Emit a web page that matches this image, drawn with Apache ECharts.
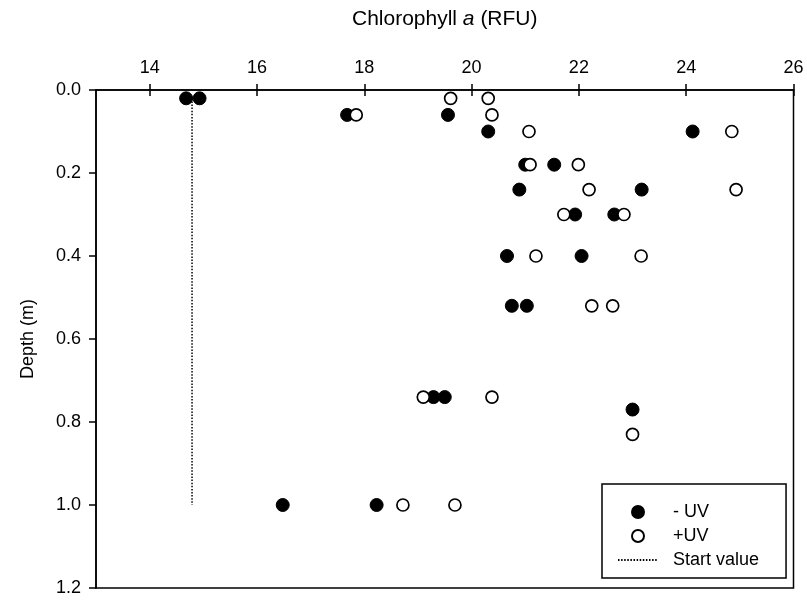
<!DOCTYPE html>
<html>
<head>
<meta charset="utf-8">
<script src="https://cdn.jsdelivr.net/npm/echarts@6/dist/echarts.min.js"></script>
<style>
html,body{margin:0;padding:0;background:#fff;}
#c{width:807px;height:603px;}
</style>
</head>
<body>
<div id="c"></div>
<script>
// Data
const minusChl = [14.68, 14.93, 17.68, 19.56, 20.31, 24.12, 21.00, 21.54, 20.89, 23.17, 21.93, 22.66, 20.66, 22.05, 20.75, 21.03, 19.29, 19.50, 23.00, 16.48, 18.23];
const minusDepth = [0.02, 0.02, 0.06, 0.06, 0.10, 0.10, 0.18, 0.18, 0.24, 0.24, 0.30, 0.30, 0.40, 0.40, 0.52, 0.52, 0.74, 0.74, 0.77, 1.00, 1.00];
const plusChl = [19.61, 20.31, 17.85, 20.38, 21.07, 24.85, 21.09, 21.99, 22.19, 24.93, 21.72, 22.84, 21.20, 23.16, 22.24, 22.63, 19.10, 20.38, 23.00, 18.72, 19.69];
const plusDepth = [0.02, 0.02, 0.06, 0.06, 0.10, 0.10, 0.18, 0.18, 0.24, 0.24, 0.30, 0.30, 0.40, 0.40, 0.52, 0.52, 0.74, 0.74, 0.83, 1.00, 1.00];
const startValue = 14.79;
const startDepths = [0.02, 1.00];
const xTicks = [14, 16, 18, 20, 22, 24, 26];
const yTicks = [0, 0.2, 0.4, 0.6, 0.8, 1.0, 1.2];
const seriesNames = ['- UV', '+UV', 'Start value'];

const FONT = '"Liberation Sans", Arial, sans-serif';
const chart = echarts.init(document.getElementById('c'), null, {renderer: 'canvas'});

const zip = (xs, ys) => xs.map((x, i) => [x, ys[i]]);

const baseX = {
  type: 'value', min: 13, max: 26, position: 'top',
  splitLine: {show: false}
};

chart.setOption({
  animation: false,
  backgroundColor: '#fff',
  grid: {left: 96, right: 13.5, top: 90, bottom: 15, show: true, borderColor: '#000', borderWidth: 1.5, backgroundColor: 'transparent'},
  xAxis: [
    Object.assign({}, baseX, {
      name: '{n|Chlorophyll }{i|a}{n| (RFU)}',
      nameLocation: 'middle', nameGap: 60,
      nameTextStyle: {rich: {
        n: {fontFamily: FONT, fontSize: 21, color: '#000'},
        i: {fontFamily: FONT, fontSize: 21, color: '#000', fontStyle: 'italic'}
      }},
      axisLine: {show: true, onZero: false, lineStyle: {color: '#000', width: 1.5}},
      axisTick: {show: true, inside: false, length: 6, lineStyle: {color: '#000', width: 1.5}, customValues: xTicks},
      axisLabel: {show: true, color: '#000', fontFamily: FONT, fontSize: 18, margin: 13, customValues: xTicks}
    }),
    Object.assign({}, baseX, {
      axisLine: {show: false, onZero: false},
      axisTick: {show: true, inside: true, length: 6, lineStyle: {color: '#000', width: 1.5}, customValues: xTicks},
      axisLabel: {show: false, customValues: xTicks}
    })
  ],
  yAxis: {
    type: 'value', min: 0, max: 1.2, inverse: true, position: 'left',
    name: 'Depth (m)', nameLocation: 'middle', nameGap: 59, nameRotate: 90,
    nameTextStyle: {fontFamily: FONT, fontSize: 18, color: '#000'},
    splitLine: {show: false},
    axisLine: {show: true, onZero: false, lineStyle: {color: '#000', width: 1.5}},
    axisTick: {show: true, inside: false, length: 7, lineStyle: {color: '#000', width: 1.5}, customValues: yTicks},
    axisLabel: {show: true, color: '#000', fontFamily: FONT, fontSize: 18, margin: 15, customValues: yTicks,
      formatter: v => v.toFixed(1)}
  },
  legend: {
    orient: 'vertical', left: 602, top: 484,
    padding: [19, 27, 9, 15],
    borderColor: '#000', borderWidth: 1.5, backgroundColor: '#fff',
    itemWidth: 40, itemHeight: 12, itemGap: 6,
    textStyle: {fontFamily: FONT, fontSize: 18, color: '#000', padding: [0, 0, 0, 10]},
    data: [
      {name: seriesNames[0], icon: 'circle'},
      {name: seriesNames[1], icon: 'circle'},
      {name: seriesNames[2], itemStyle: {opacity: 0}}
    ]
  },
  series: [
    {
      name: seriesNames[2], type: 'line', xAxisIndex: 0, symbol: 'none',
      data: startDepths.map(d => [startValue, d]),
      lineStyle: {color: '#000', width: 1.5, type: [1.5, 1.6]},
      itemStyle: {color: '#000'}, z: 1
    },
    {
      name: seriesNames[0], type: 'scatter', xAxisIndex: 0, symbol: 'circle', symbolSize: 13,
      data: zip(minusChl, minusDepth),
      itemStyle: {color: '#000', borderColor: '#000', borderWidth: 1, opacity: 1}, z: 2
    },
    {
      name: seriesNames[1], type: 'scatter', xAxisIndex: 0, symbol: 'circle', symbolSize: 12,
      data: zip(plusChl, plusDepth),
      itemStyle: {color: '#fff', borderColor: '#000', borderWidth: 1.7, opacity: 1}, z: 3
    }
  ]
});
</script>
</body>
</html>
